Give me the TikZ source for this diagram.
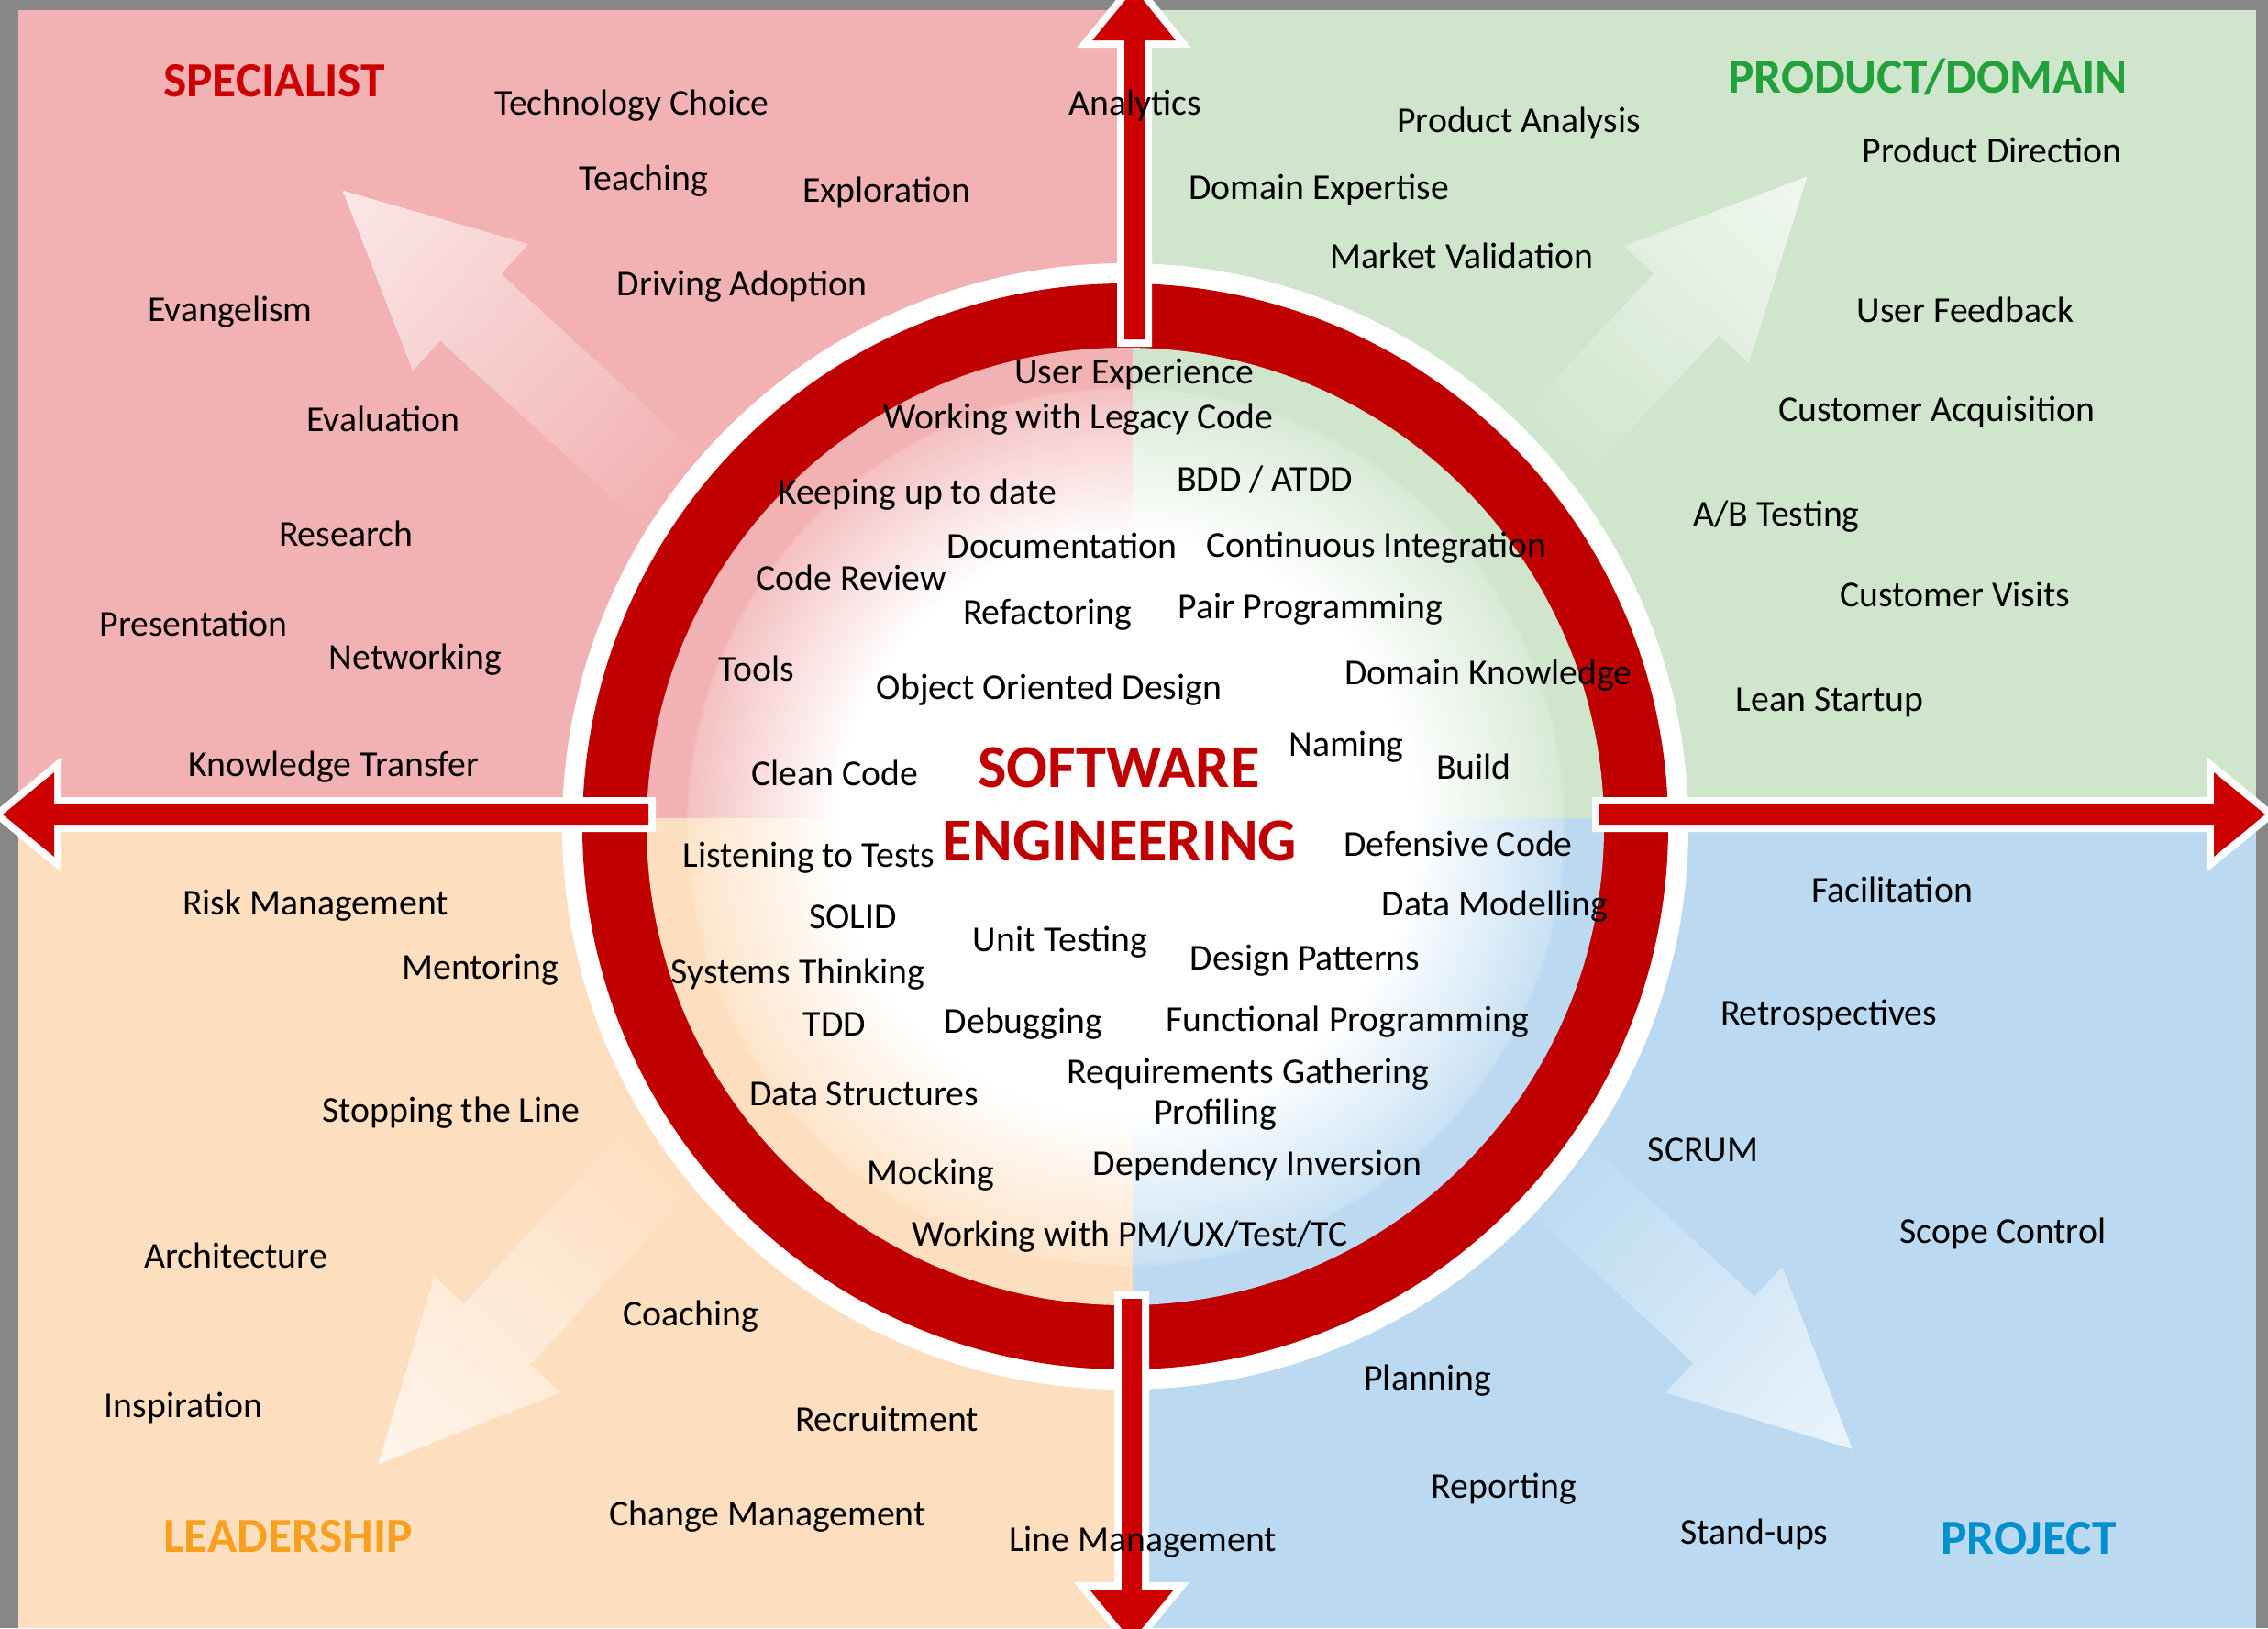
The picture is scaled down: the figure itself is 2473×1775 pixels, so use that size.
\documentclass[tikz,border=0pt]{standalone}
\usepackage{fontspec}
\setmainfont{Carlito}
\definecolor{grayB}{HTML}{878787}
\definecolor{pinkQ}{HTML}{F2B1B2}
\definecolor{greenQ}{HTML}{CFE5CC}
\definecolor{orangeQ}{HTML}{FDDEBE}
\definecolor{blueQ}{HTML}{BBDAF1}
\definecolor{ringred}{HTML}{C00000}
\definecolor{arrowred}{HTML}{CC0000}
\definecolor{specRed}{HTML}{CC0000}
\definecolor{prodGreen}{HTML}{22A03C}
\definecolor{leadOrange}{HTML}{F7A01F}
\definecolor{projBlue}{HTML}{0090D0}
\pgfdeclareradialshading{discP}{\pgfpointorigin}{color(0bp)=(white); color(15bp)=(white); color(22.8bp)=(pinkQ!80!white); color(23bp)=(pinkQ); color(25bp)=(pinkQ); color(50bp)=(pinkQ)}
\pgfdeclareradialshading{discG}{\pgfpointorigin}{color(0bp)=(white); color(15bp)=(white); color(22.8bp)=(greenQ!80!white); color(23bp)=(greenQ); color(25bp)=(greenQ); color(50bp)=(greenQ)}
\pgfdeclareradialshading{discO}{\pgfpointorigin}{color(0bp)=(white); color(15bp)=(white); color(22.8bp)=(orangeQ!80!white); color(23bp)=(orangeQ); color(25bp)=(orangeQ); color(50bp)=(orangeQ)}
\pgfdeclareradialshading{discB}{\pgfpointorigin}{color(0bp)=(white); color(15bp)=(white); color(22.8bp)=(blueQ!80!white); color(23bp)=(blueQ); color(25bp)=(blueQ); color(50bp)=(blueQ)}
% #1,#2 base of head; #3 angle; #4 shaft length; #5 head length; #6 quadrant colour
\newcommand\diagarrow[6]{%
  \begin{scope}[shift={(#1,#2)}, rotate=#3]
    \clip (-#4,-49) -- (0,-49) -- (0,-93) -- (#5,0) -- (0,93) -- (0,49) -- (-#4,49) -- cycle;
    \pgfmathsetmacro\stepw{(#4+#5)/50}
    \foreach \k in {0,...,49} {
      \pgfmathsetmacro\uu{-#4+\k*\stepw}
      \pgfmathtruncatemacro\pp{100-68*\k/49}
      \fill[#6!\pp!white] (\uu,-110) -- (#5+10,-110) -- (#5+10,110) -- (\uu,110) -- cycle;
    }
  \end{scope}}
\begin{document}
\begin{tikzpicture}[x=0.01cm, y=-0.01cm,
  lbl/.style={inner sep=0pt, font=\fontsize{11.3pt}{13pt}\selectfont},
  ttl/.style={inner sep=0pt, font=\fontsize{15.2pt}{17pt}\selectfont\bfseries},
  core/.style={inner sep=0pt, text=ringred, font=\fontsize{18.9pt}{21pt}\selectfont\bfseries},
  arrowline/.style={draw=white, line width=0.16cm, line join=miter}]
\useasboundingbox (0,0) rectangle (2473,1775);
% background and quadrants
\fill[grayB] (0,0) rectangle (2473,1775);
\fill[pinkQ] (20,11) rectangle (1235,892);
\fill[greenQ] (1235,11) rectangle (2460,892);
\fill[orangeQ] (20,892) rectangle (1235,1775);
\fill[blueQ] (1235,892) rectangle (2460,1775);
% faint diagonal arrows
\diagarrow{513}{335}{137.6}{310}{188}{pinkQ}
\diagarrow{1839}{332}{46.7}{230}{191}{greenQ}
\diagarrow{542}{1455}{-132.5}{280}{191}{orangeQ}
\diagarrow{1880}{1450}{-42.9}{250}{190}{blueQ}
% ring
\fill[white] (1227,901) circle[radius=614];
\fill[ringred] (1227,901) circle[radius=592];
\begin{scope}\clip (0,0) rectangle (1235,892);
  \shade[shading=discP] (1227,901) circle[radius=522];\end{scope}
\begin{scope}\clip (1235,0) rectangle (2473,892);
  \shade[shading=discG] (1227,901) circle[radius=522];\end{scope}
\begin{scope}\clip (0,892) rectangle (1235,1775);
  \shade[shading=discO] (1227,901) circle[radius=522];\end{scope}
\begin{scope}\clip (1235,892) rectangle (2473,1775);
  \shade[shading=discB] (1227,901) circle[radius=522];\end{scope}
% red arrows
\def\leftarr{(707,877) -- (59,877) -- (59,842) -- (3,888) -- (59,934) -- (59,899) -- (707,899) -- cycle}
\def\rightarr{(1744,877) -- (2414,877) -- (2414,842) -- (2470,888) -- (2414,934) -- (2414,899) -- (1744,899) -- cycle}
\def\toparr{(1226,370) -- (1226,44) -- (1191,44) -- (1237,-12) -- (1282,44) -- (1248,44) -- (1248,370) -- cycle}
\def\botarr{(1223,1416) -- (1223,1733) -- (1188,1733) -- (1234,1789) -- (1280,1733) -- (1245,1733) -- (1245,1416) -- cycle}
\path[arrowline] \leftarr;  \fill[arrowred] \leftarr;
\path[arrowline] \rightarr; \fill[arrowred] \rightarr;
\path[arrowline] \toparr;   \fill[arrowred] \toparr;
\path[arrowline] \botarr;   \fill[arrowred] \botarr;
% titles
\node[ttl, text=specRed] (tspec) at (299,88) {SPECIALIST};
\node[ttl, text=prodGreen] (tprod) at (2102,84) {PRODUCT/DOMAIN};
\node[ttl, text=leadOrange] (tlead) at (314,1675) {LEADERSHIP};
\node[ttl, text=projBlue] (tproj) at (2212,1677) {PROJECT};
\node[core] (soft) at (1220,837) {SOFTWARE};
\node[core] (eng) at (1221,917) {ENGINEERING};
% specialist
\node[lbl] (a1) at (689,115) {Technology Choice};
\node[lbl] (a2) at (702,197) {Teaching};
\node[lbl] (a3) at (967,210) {Exploration};
\node[lbl] (a4) at (809,312) {Driving Adoption};
\node[lbl] (a5) at (251,340) {Evangelism};
\node[lbl] (a6) at (418,457) {Evaluation};
\node[lbl] (a7) at (377,582) {Research};
\node[lbl] (a8) at (211,680) {Presentation};
\node[lbl] (a9) at (453,719) {Networking};
\node[lbl] (a10) at (364,836) {Knowledge Transfer};
\node[lbl] (a11) at (1238,115) {Analytics};
% product/domain
\node[lbl] (b1) at (1656,134) {Product Analysis};
\node[lbl] (b2) at (2172,164) {Product Direction};
\node[lbl] (b3) at (1438,207) {Domain Expertise};
\node[lbl] (b4) at (1594,279) {Market Validation};
\node[lbl] (b5) at (2143,338) {User Feedback};
\node[lbl] (b6) at (2112,449) {Customer Acquisition};
\node[lbl] (b7) at (1937,563) {A/B Testing};
\node[lbl] (b8) at (2132,648) {Customer Visits};
\node[lbl] (b9) at (1995,766) {Lean Startup};
% inner
\node[lbl] (c1) at (1237,408) {User Experience};
\node[lbl] (c2) at (1176,457) {Working with Legacy Code};
\node[lbl] (c3) at (1000,539) {Keeping up to date};
\node[lbl] (c4) at (1379,523) {BDD / ATDD};
\node[lbl] (c5) at (1158,595) {Documentation};
\node[lbl] (c6) at (1501,597) {Continuous Integration};
\node[lbl] (c7) at (928,630) {Code Review};
\node[lbl] (c8) at (1142,670) {Refactoring};
\node[lbl] (c9) at (1429,664) {Pair Programming};
\node[lbl] (c10) at (825,729) {Tools};
\node[lbl] (c11) at (1144,752) {Object Oriented Design};
\node[lbl] (c12) at (1623,736) {Domain Knowledge};
\node[lbl] (c13) at (1468,814) {Naming};
\node[lbl] (c14) at (1607,836) {Build};
\node[lbl] (c15) at (910,843) {Clean Code};
\node[lbl] (c16) at (882,935) {Listening to Tests};
\node[lbl] (c17) at (1590,920) {Defensive Code};
\node[lbl] (c18) at (930,1000) {SOLID};
\node[lbl] (c19) at (1630,988) {Data Modelling};
\node[lbl] (c20) at (1156,1027) {Unit Testing};
\node[lbl] (c21) at (1423,1047) {Design Patterns};
\node[lbl] (c22) at (870,1062) {Systems Thinking};
\node[lbl] (c23) at (910,1117) {TDD};
\node[lbl] (c24) at (1116,1116) {Debugging};
\node[lbl] (c25) at (1469,1114) {Functional Programming};
\node[lbl] (c26) at (1361,1171) {Requirements Gathering};
\node[lbl] (c27) at (1325,1215) {Profiling};
\node[lbl] (c28) at (942,1193) {Data Structures};
\node[lbl] (c29) at (1015,1281) {Mocking};
\node[lbl] (c30) at (1371,1271) {Dependency Inversion};
\node[lbl] (c31) at (1232,1348) {Working with PM/UX/Test/TC};
% leadership
\node[lbl] (d1) at (344,987) {Risk Management};
\node[lbl] (d2) at (524,1057) {Mentoring};
\node[lbl] (d3) at (492,1213) {Stopping the Line};
\node[lbl] (d4) at (257,1369) {Architecture};
\node[lbl] (d5) at (753,1435) {Coaching};
\node[lbl] (d6) at (200,1535) {Inspiration};
\node[lbl] (d7) at (967,1547) {Recruitment};
\node[lbl] (d8) at (837,1653) {Change Management};
\node[lbl] (d9) at (1246,1681) {Line Management};
% project
\node[lbl] (e1) at (2063,970) {Facilitation};
\node[lbl] (e2) at (1994,1107) {Retrospectives};
\node[lbl] (e3) at (1857,1254) {SCRUM};
\node[lbl] (e4) at (2184,1345) {Scope Control};
\node[lbl] (e5) at (1557,1505) {Planning};
\node[lbl] (e6) at (1640,1623) {Reporting};
\node[lbl] (e7) at (1913,1673) {Stand-ups};
\end{tikzpicture}
\end{document}
